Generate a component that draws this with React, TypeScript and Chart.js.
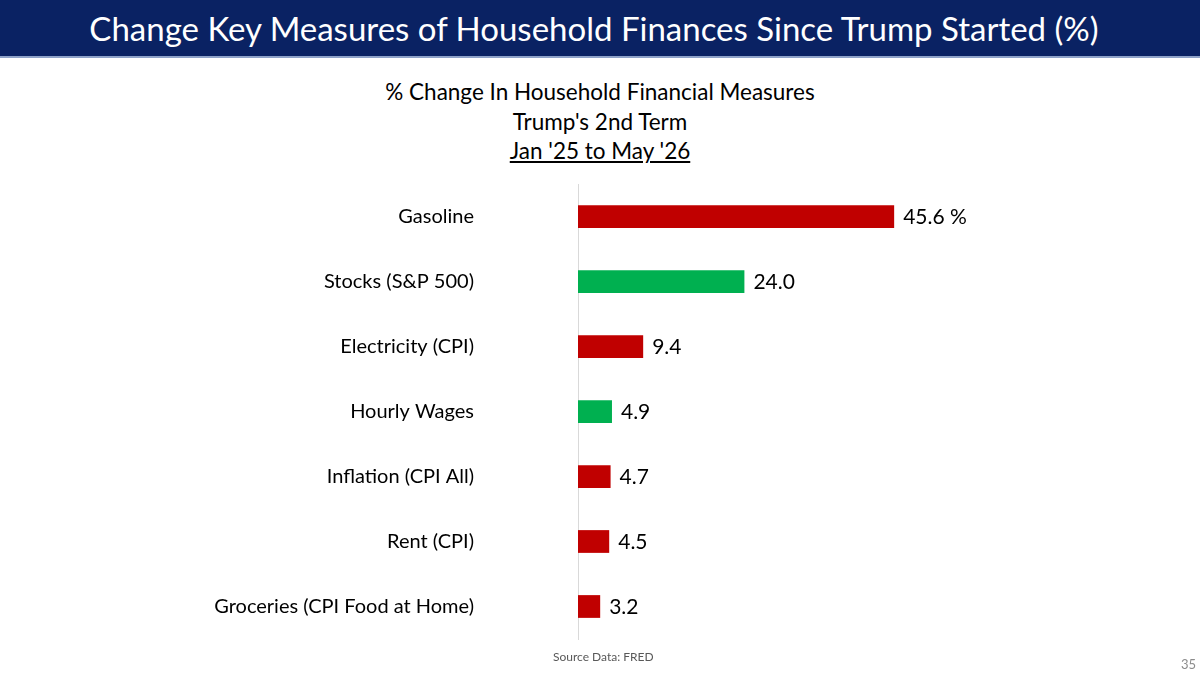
import React, { useEffect, useRef } from "react";
import { Chart, registerables } from "chart.js";

Chart.register(...registerables);

const categories = [
  "Gasoline",
  "Stocks (S&P 500)",
  "Electricity (CPI)",
  "Hourly Wages",
  "Inflation (CPI All)",
  "Rent (CPI)",
  "Groceries (CPI Food at Home)",
];
const values = [45.6, 24.0, 9.4, 4.9, 4.7, 4.5, 3.2];
const valueLabels = ["45.6 %", "24.0", "9.4", "4.9", "4.7", "4.5", "3.2"];
const barColors = ["#C00000", "#00B050", "#C00000", "#00B050", "#C00000", "#C00000", "#C00000"];

const FONT = "Lato, 'Open Sans', sans-serif";

const valueLabelPlugin = {
  id: "valueLabels",
  afterDatasetsDraw(chart: any) {
    const ctx = chart.ctx;
    const meta = chart.getDatasetMeta(0);
    ctx.save();
    ctx.font = `21px ${FONT}`;
    ctx.fillStyle = "#000000";
    ctx.textAlign = "left";
    ctx.textBaseline = "middle";
    meta.data.forEach((bar: any, i: number) => {
      ctx.fillText(valueLabels[i], bar.x + 9, bar.y + 1);
    });
    ctx.restore();
  },
};

export default function App() {
  const canvasRef = useRef<HTMLCanvasElement | null>(null);

  useEffect(() => {
    document.body.style.margin = "0";
    const canvas = canvasRef.current;
    if (!canvas) return;
    const chart = new Chart(canvas, {
      type: "bar",
      data: {
        labels: categories,
        datasets: [
          {
            data: values,
            backgroundColor: barColors,
            borderWidth: 0,
            barPercentage: 0.7,
            categoryPercentage: 0.5,
          },
        ],
      },
      options: {
        indexAxis: "y",
        animation: false,
        responsive: false,
        devicePixelRatio: 1,
        layout: { padding: { left: 0, right: 102, top: 184, bottom: 42 } },
        plugins: {
          legend: { display: false },
          tooltip: { enabled: false },
          title: { display: false },
        },
        scales: {
          x: {
            display: false,
            min: 0,
            max: 75,
          },
          y: {
            afterFit(scale: any) {
              scale.width = 578;
              scale.paddingTop = 0;
              scale.paddingBottom = 0;
            },
            grid: { display: false, drawTicks: false },
            border: { display: true, color: "#D9D9D9", width: 1 },
            ticks: {
              padding: 104,
              color: "#000000",
              font: { family: FONT, size: 20 },
            },
          },
        },
      },
      plugins: [valueLabelPlugin],
    });
    return () => chart.destroy();
  }, []);

  return (
    <div style={{ position: "relative", width: 1200, height: 681, background: "#fff", overflow: "hidden", fontFamily: FONT }}>
      <div
        style={{
          position: "absolute",
          left: 0,
          top: 0,
          width: 1200,
          height: 56,
          background: "#0A2263",
          borderBottom: "2px solid #8EA2C8",
          color: "#fff",
          fontSize: 33,
          lineHeight: "56px",
          textAlign: "center",
        }}
      >
        <span style={{ position: "relative", left: -6 }}>Change Key Measures of Household Finances Since Trump Started (%)</span>
      </div>
      <div style={{ position: "absolute", left: 0, top: 77, width: 1200, textAlign: "center", fontSize: 22.5, lineHeight: "29.5px", color: "#000" }}>
        <div>% Change In Household Financial Measures</div>
        <div>Trump's 2nd Term</div>
        <div><span style={{ textDecoration: "underline" }}>Jan '25 to May '26</span></div>
      </div>
      <canvas ref={canvasRef} width={1200} height={681} style={{ position: "absolute", left: 0, top: 0, width: 1200, height: 681 }} />
      <div style={{ position: "absolute", left: 553, top: 649, fontSize: 12, color: "#595959" }}>Source Data: FRED</div>
      <div style={{ position: "absolute", left: 1181, top: 656, fontSize: 13, color: "#8C8C8C" }}>35</div>
    </div>
  );
}
